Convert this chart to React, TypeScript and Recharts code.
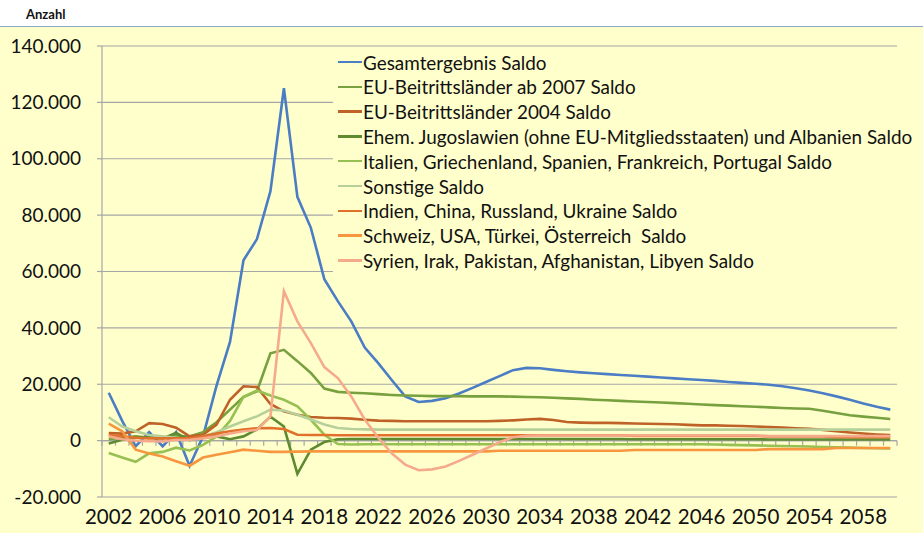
import React from "react";
import {
  CartesianGrid,
  Line,
  LineChart,
  ReferenceLine,
  XAxis,
  YAxis,
} from "recharts";

const years = Array.from({ length: 59 }, (_, i) => 2002 + i);
const yearTicks = [2002, 2006, 2010, 2014, 2018, 2022, 2026, 2030, 2034, 2038, 2042, 2046, 2050, 2054, 2058];
const valueTicks = [-20000, 0, 20000, 40000, 60000, 80000, 100000, 120000, 140000];

const gesamt = [
  17000, 7000, -2000, 3000, -2000, 3000, -9000, 1500, 19500, 35000,
  64000, 71500, 88500, 125000, 86500, 75500, 57300, 49500, 42300, 33000,
  27500, 21500, 15700, 13700, 14100, 15000, 16700, 18700, 20800, 22900,
  25000, 25800, 25700, 25100, 24600, 24200, 23900, 23600, 23300, 23000,
  22700, 22400, 22100, 21800, 21500, 21200, 20800, 20500, 20200, 19800,
  19300, 18600, 17800, 16800, 15700, 14500, 13200, 12000, 11000,
];
const euAb2007 = [
  500, 1000, 1500, 1000, 1000, 1500, 1500, 3000, 6500, 11000,
  15500, 17500, 31000, 32200, 28200, 24000, 18500, 17300, 17000, 16800,
  16500, 16200, 16000, 15900, 15800, 15800, 15800, 15700, 15700, 15700,
  15600, 15500, 15400, 15200, 15000, 14800, 14500, 14300, 14100, 13900,
  13700, 13500, 13300, 13100, 12800, 12600, 12400, 12200, 12000, 11800,
  11600, 11400, 11300, 10600, 9800, 9000, 8500, 8100, 7700,
];
const eu2004 = [
  2700, 2500, 3300, 6200, 5900, 4600, 1500, 2100, 5700, 14500,
  19300, 19000, 13000, 10400, 9200, 8400, 8100, 8000, 7800, 7400,
  7100, 7000, 6900, 6900, 6900, 6900, 6900, 6900, 6900, 7000,
  7200, 7500, 7700, 7300, 6600, 6400, 6300, 6300, 6200, 6100,
  6000, 5900, 5800, 5600, 5400, 5400, 5300, 5200, 5000, 4800,
  4600, 4400, 4200, 3800, 3300, 2900, 2500, 2200, 2000,
];
const jugoslawien = [
  -1000, 300, 1000, 1200, 800, 2700, 200, 1500, 1500, 500,
  1500, 4000, 8500, 5000, -11800, -3200, -500, 500, 600, 600,
  600, 600, 600, 600, 600, 600, 600, 600, 600, 600,
  600, 600, 600, 600, 600, 600, 600, 600, 600, 500,
  500, 500, 500, 500, 500, 500, 500, 500, 500, 400,
  400, 400, 400, 400, 400, 400, 400, 400, 400,
];
const italien = [
  -4400, -6000, -7500, -4500, -4000, -2500, -3500, -1500, 1500, 7000,
  15500, 17800, 16000, 14500, 12200, 7400, 2100, -1200, -1400, -1300,
  -1300, -1300, -1300, -1300, -1300, -1300, -1300, -1300, -1300, -1300,
  -1300, -1300, -1300, -1300, -1300, -1300, -1300, -1300, -1300, -1300,
  -1300, -1300, -1300, -1300, -1300, -1400, -1500, -1600, -1700, -1800,
  -1900, -2000, -2100, -2300, -2400, -2500, -2600, -2700, -2800,
];
const sonstige = [
  8300, 5000, 3300, 2000, 1500, 1000, 300, 1500, 3000, 5000,
  6900, 8600, 11000, 10700, 9200, 7500, 5700, 4500, 4100, 4000,
  3900, 3900, 3900, 3900, 3900, 3900, 3900, 3900, 3900, 3900,
  3900, 3900, 3900, 3900, 3900, 3900, 3900, 3900, 3900, 3900,
  3900, 3900, 3900, 3900, 3900, 3900, 3900, 3900, 3900, 3900,
  3900, 3900, 3900, 3900, 3900, 3900, 3900, 3900, 3900,
];
const indien = [
  2000, 1500, 1000, 800, 800, 800, 800, 1500, 2500, 3300,
  3900, 4400, 4500, 4100, 2100, 2000, 2000, 1900, 1900, 1900,
  1900, 1900, 1900, 1900, 1900, 1900, 1900, 1900, 1900, 1900,
  1900, 1900, 1900, 1900, 1900, 1900, 1900, 1900, 1900, 1700,
  1700, 1700, 1700, 1700, 1700, 1700, 1700, 1700, 1700, 1500,
  1500, 1500, 1500, 1500, 1200, 1200, 1200, 1200, 1200,
];
const schweiz = [
  6000, 3300, -3200, -4600, -5600, -7300, -8900, -6000, -5000, -4100,
  -3200, -3600, -4000, -4000, -3900, -3800, -3800, -3800, -3800, -3800,
  -3800, -3800, -3800, -3800, -3800, -3800, -3800, -3800, -3800, -3600,
  -3600, -3600, -3600, -3600, -3600, -3600, -3600, -3600, -3600, -3300,
  -3300, -3300, -3300, -3300, -3300, -3300, -3300, -3300, -3300, -3000,
  -3000, -3000, -3000, -3000, -2600, -2600, -2600, -2600, -2600,
];
const syrien = [
  1500, 500, 0, -200, -300, 200, 300, 800, 1500, 2500,
  3300, 3800, 8600, 53000, 42300, 34600, 26100, 22200, 15700, 7500,
  1000, -4500, -8500, -10500, -10200, -9200, -7200, -5000, -2800, -600,
  1200, 1700, 1800, 1800, 1800, 1800, 1800, 1800, 1800, 1800,
  1800, 1800, 1800, 1800, 1800, 1800, 1800, 1800, 1800, 1600,
  1600, 1600, 1600, 1600, 1600, 1600, 1600, 1600, 1600,
];

const seriesList = [
  { key: "gesamt", name: "Gesamtergebnis Saldo", color: "#4A7DC4", values: gesamt },
  { key: "euAb2007", name: "EU-Beitrittsländer ab 2007 Saldo", color: "#77A03E", values: euAb2007 },
  { key: "eu2004", name: "EU-Beitrittsländer 2004 Saldo", color: "#BE6228", values: eu2004 },
  { key: "jugoslawien", name: "Ehem. Jugoslawien (ohne EU-Mitgliedsstaaten) und Albanien Saldo", color: "#5E8A30", values: jugoslawien },
  { key: "italien", name: "Italien, Griechenland, Spanien, Frankreich, Portugal Saldo", color: "#96C052", values: italien },
  { key: "sonstige", name: "Sonstige Saldo", color: "#B7D09A", values: sonstige },
  { key: "indien", name: "Indien, China, Russland, Ukraine Saldo", color: "#E0702A", values: indien },
  { key: "schweiz", name: "Schweiz, USA, Türkei, Österreich  Saldo", color: "#F7963E", values: schweiz },
  { key: "syrien", name: "Syrien, Irak, Pakistan, Afghanistan, Libyen Saldo", color: "#F6AA8C", values: syrien },
];

const chartData = years.map((year, i) => {
  const row: Record<string, number> = { year };
  seriesList.forEach((s) => {
    row[s.key] = s.values[i];
  });
  return row;
});

// category boundaries for the small tick marks on the zero line
const boundaries = [...years.map((y) => y - 0.5), years[years.length - 1] + 0.5];

const formatDe = (v: number) => {
  const s = Math.abs(v).toString().replace(/\B(?=(\d{3})+(?!\d))/g, ".");
  return v < 0 ? "-" + s : s;
};

const FONT = "Lato, 'Open Sans', sans-serif";
const GRID = "#A6A6A6";

export default function App() {
  return (
    <div
      style={{
        position: "absolute",
        left: 0,
        top: 0,
        width: 923,
        height: 533,
        background: "#FFFFCC",
        fontFamily: FONT,
        overflow: "hidden",
      }}
    >
      <div
        style={{
          position: "absolute",
          left: 0,
          top: 0,
          width: 923,
          height: 26,
          background: "#FFFFFF",
          borderBottom: "1.5px solid #8FAAC9",
        }}
      >
        <span
          style={{
            position: "absolute",
            left: 26,
            top: 6,
            fontSize: 13,
            fontWeight: 700,
            color: "#111",
          }}
        >
          Anzahl
        </span>
      </div>
      <div style={{ position: "absolute", left: 0, top: 0 }}>
        <LineChart
          width={923}
          height={533}
          data={chartData}
          margin={{ top: 46, right: 26, bottom: 0, left: 0 }}
        >
          <CartesianGrid horizontal vertical={false} stroke={GRID} strokeWidth={1.2} />
          <XAxis
            dataKey="year"
            type="number"
            domain={[2001.5, 2060.5]}
            ticks={yearTicks}
            interval={0}
            axisLine={false}
            tickLine={false}
            tickSize={0}
            tickMargin={12}
            height={36}
            tick={{ fill: "#111", fontSize: 20.5, fontFamily: FONT }}
          />
          <YAxis
            type="number"
            domain={[-20000, 140000]}
            ticks={valueTicks}
            interval={0}
            width={102}
            tickFormatter={formatDe}
            axisLine={{ stroke: GRID, strokeWidth: 1.2 }}
            tickLine={{ stroke: GRID, strokeWidth: 1.2 }}
            tickSize={5}
            tickMargin={16}
            tick={{ fill: "#111", fontSize: 19, fontFamily: FONT }}
          />
          <ReferenceLine y={0} stroke={GRID} strokeWidth={1.2} />
          {boundaries.map((b) => (
            <ReferenceLine
              key={`tick-${b}`}
              segment={[
                { x: b, y: 0 },
                { x: b, y: -1800 },
              ]}
              stroke={GRID}
              strokeWidth={1.2}
            />
          ))}
          {seriesList.map((s) => (
            <Line
              key={s.key}
              type="linear"
              dataKey={s.key}
              name={s.name}
              stroke={s.color}
              strokeWidth={2.6}
              dot={false}
              activeDot={false}
              isAnimationActive={false}
            />
          ))}
        </LineChart>
      </div>
      <div
        style={{
          position: "absolute",
          left: 333,
          top: 48,
          width: 590,
          height: 230,
          background: "#FFFFCC",
        }}
      >
        {seriesList.map((s, i) => (
          <div
            key={s.key}
            style={{
              position: "absolute",
              left: 5,
              top: 2 + i * 24.8,
              height: 24,
              display: "flex",
              alignItems: "center",
              whiteSpace: "pre",
            }}
          >
            <span
              style={{
                display: "inline-block",
                width: 24,
                height: 2.6,
                background: s.color,
                marginRight: 1,
              }}
            />
            <span style={{ fontSize: 18.9, color: "#111" }}>{s.name}</span>
          </div>
        ))}
      </div>
    </div>
  );
}
